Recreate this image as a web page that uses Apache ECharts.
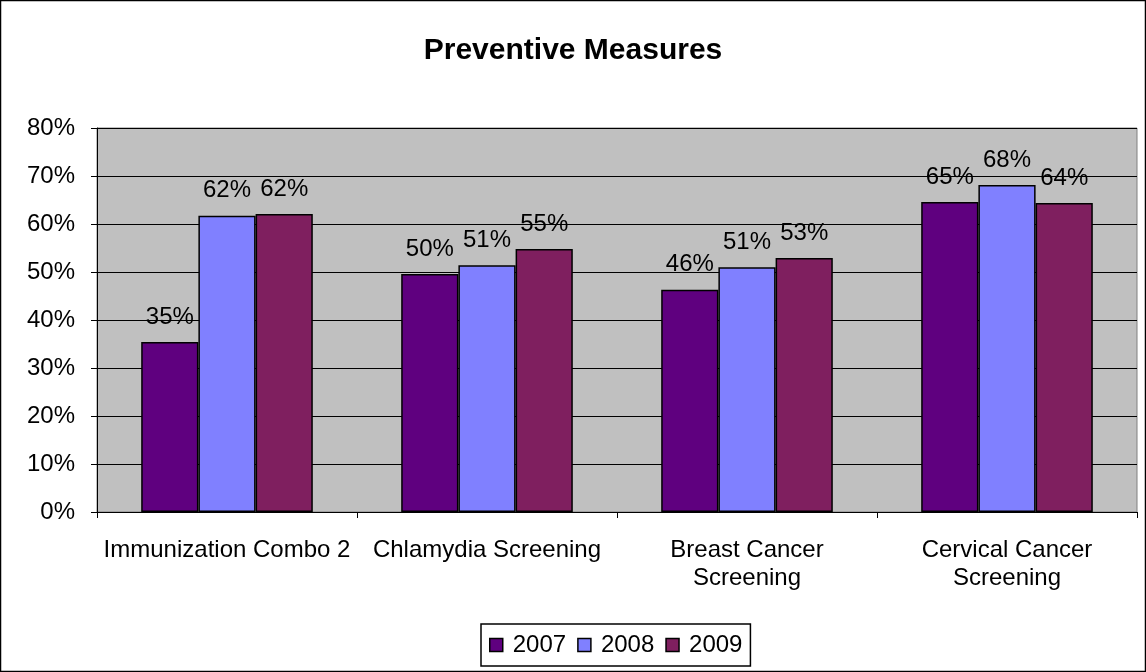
<!DOCTYPE html>
<html>
<head>
<meta charset="utf-8">
<script src="https://cdn.jsdelivr.net/npm/echarts@6/dist/echarts.min.js"></script>
<style>
  html, body { margin: 0; padding: 0; background: #fff; }
  #chart { width: 1146px; height: 672px; }
</style>
</head>
<body>
<div id="chart"></div>
<script>
const categories = ["Immunization Combo 2", "Chlamydia Screening", "Breast Cancer\nScreening", "Cervical Cancer\nScreening"];
const years = ["2007", "2008", "2009"];
const values2007 = [35.4, 49.6, 46.3, 64.6];
const values2008 = [61.7, 51.4, 51.0, 68.1];
const values2009 = [62.1, 54.8, 52.9, 64.4];
const colors = ["#5F007F", "#8080FF", "#7F1F5F"];

const font = "Liberation Sans, Arial, sans-serif";
const chart = echarts.init(document.getElementById("chart"));

const makeSeries = (name, data, color) => ({
  name: name,
  type: "bar",
  data: data,
  barGap: "0%",
  barCategoryGap: "34%",
  itemStyle: { color: color, borderColor: "#000", borderWidth: 1.5 },
  label: {
    show: true,
    position: "top",
    distance: 13,
    color: "#000",
    fontFamily: font,
    fontSize: 24,
    formatter: (p) => Math.round(p.value) + "%",
  },
});

chart.setOption({
  animation: false,
  title: {
    text: "Preventive Measures",
    left: "center",
    top: 31,
    textStyle: { fontFamily: font, fontSize: 30, fontWeight: "bold", color: "#000" },
  },
  graphic: [
    {
      type: "rect",
      shape: { x: 0.5, y: 0.5, width: 1145, height: 671 },
      style: { fill: null, stroke: "#000", lineWidth: 1.5 },
      silent: true,
    },
  ],
  legend: {
    bottom: 6,
    left: 481,
    icon: "rect",
    itemWidth: 13,
    itemHeight: 13,
    itemGap: 11,
    padding: [9, 8, 9, 8],
    borderColor: "#000",
    borderWidth: 1.5,
    itemStyle: { borderColor: "#000", borderWidth: 1.5 },
    textStyle: { fontFamily: font, fontSize: 24, color: "#000", padding: [0, 0, 0, 5] },
    data: years,
  },
  grid: {
    left: 97,
    right: 9,
    top: 128,
    bottom: 160,
    show: true,
    backgroundColor: "#C0C0C0",
    borderColor: "#808080",
    borderWidth: 1,
  },
  xAxis: {
    type: "category",
    data: categories,
    axisLine: { lineStyle: { color: "#000", width: 1 } },
    axisTick: { show: true, length: 6, lineStyle: { color: "#000" } },
    axisLabel: {
      color: "#000",
      fontFamily: font,
      fontSize: 24,
      margin: 24,
      lineHeight: 28,
      interval: 0,
    },
  },
  yAxis: {
    type: "value",
    min: 0,
    max: 80,
    interval: 10,
    axisLine: { show: true, lineStyle: { color: "#000", width: 1 } },
    axisTick: { show: true, length: 6, lineStyle: { color: "#000" } },
    splitLine: { lineStyle: { color: "#000", width: 1 } },
    axisLabel: {
      color: "#000",
      fontFamily: font,
      fontSize: 24,
      margin: 22,
      formatter: "{value}%",
    },
  },
  series: [
    makeSeries(years[0], values2007, colors[0]),
    makeSeries(years[1], values2008, colors[1]),
    makeSeries(years[2], values2009, colors[2]),
  ],
});
</script>
</body>
</html>
